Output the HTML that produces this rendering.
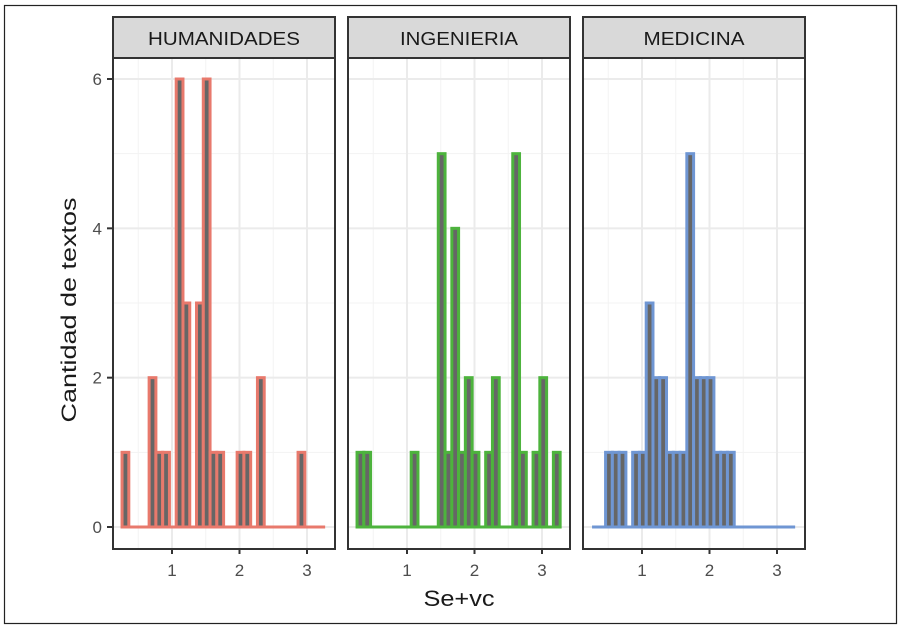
<!DOCTYPE html>
<html><head><meta charset="utf-8"><style>
html,body{margin:0;padding:0;background:#fff;}
svg{display:block;font-family:"Liberation Sans",sans-serif;}
</style></head><body>
<svg id="chart" width="901" height="629">
<rect x="4.5" y="5.5" width="892" height="618" fill="#fff" stroke="#222" stroke-width="1.2"/>
</svg>
<script>
const facets = ["HUMANIDADES","INGENIERIA","MEDICINA"];
const colors = ["#E8796C","#4DB33D","#6F96D3"];
const binStart = 0.26;
const binWidth = 0.1003;
const countsHum = [1,0,0,0,2,1,1,0,6,3,0,3,6,1,1,0,0,1,1,0,2,0,0,0,0,0,1,0,0,0];
const countsIng = [1,1,0,0,0,0,0,0,1,0,0,0,5,1,4,1,2,1,0,1,2,0,0,5,1,0,1,2,0,1];
const countsMed = [0,0,1,1,1,0,1,1,3,2,2,1,1,1,5,2,2,2,1,1,1,0,0,0,0,0,0,0,0,0];
const yTicks = [0,2,4,6];
const xTicks = [1,2,3];
const allCounts = [countsHum, countsIng, countsMed];

const NS="http://www.w3.org/2000/svg";
const svg=document.getElementById('chart');
function mk(tag,attrs,parent){const e=document.createElementNS(NS,tag);for(const k in attrs)e.setAttribute(k,attrs[k]);(parent||svg).appendChild(e);return e;}
const panelX=[113,348,583], panelW=222, pTop=58, pBottom=549;
const stripW=[152,118,101];
const xmin=0.126, xmax=3.415;
const yS=v=>527-v*(448/6);
facets.forEach((f,i)=>{
  const x0=panelX[i];
  const xS=v=>x0+(v-xmin)/(xmax-xmin)*panelW;
  const g=mk('g',{});
  
  
  [1,3,5].forEach(v=>mk('line',{x1:x0,x2:x0+panelW,y1:yS(v),y2:yS(v),stroke:'#f3f3f3','stroke-width':1},g));
  [0.5,1.5,2.5].forEach(v=>mk('line',{x1:xS(v),x2:xS(v),y1:pTop,y2:pBottom,stroke:'#f3f3f3','stroke-width':1},g));
  yTicks.forEach(v=>mk('line',{x1:x0,x2:x0+panelW,y1:yS(v),y2:yS(v),stroke:'#ebebeb','stroke-width':2},g));
  xTicks.forEach(v=>mk('line',{x1:xS(v),x2:xS(v),y1:pTop,y2:pBottom,stroke:'#ebebeb','stroke-width':2},g));
  const n=allCounts[i].length;
  const bl=mk('line',{x1:xS(binStart),x2:xS(binStart+n*binWidth),y1:yS(0),y2:yS(0),stroke:colors[i],'stroke-width':3},g);
  
  
  allCounts[i].forEach((c,k)=>{
    if(c<=0) return;
    const a=xS(binStart+k*binWidth), b=xS(binStart+(k+1)*binWidth);
    const r=mk('rect',{x:a,y:yS(c),width:b-a,height:yS(0)-yS(c),fill:'#666',stroke:colors[i],'stroke-width':3},g);
    
    
  });
  mk('rect',{x:x0,y:pTop,width:panelW,height:pBottom-pTop,fill:'none',stroke:'#333','stroke-width':2},g);
  const s=mk('rect',{x:x0,y:17,width:panelW,height:pTop-17,fill:'#d9d9d9',stroke:'#333','stroke-width':2},g);
  
  
  const st=mk('text',{x:x0+panelW/2,y:45,'text-anchor':'middle','font-size':18,fill:'#1a1a1a',textLength:stripW[i],lengthAdjust:'spacingAndGlyphs'},g);
  st.textContent=f;
  
  
  xTicks.forEach(v=>{
    mk('line',{x1:xS(v),x2:xS(v),y1:pBottom,y2:pBottom+5,stroke:'#333','stroke-width':2},g);
    const t=mk('text',{x:xS(v),y:576,'text-anchor':'middle','font-size':17,fill:'#4d4d4d'},g);
    t.textContent=v;
    
    
  });
});
yTicks.forEach(v=>{
  mk('line',{x1:107,x2:113,y1:yS(v),y2:yS(v),stroke:'#333','stroke-width':2});
  const t=mk('text',{x:102,y:yS(v)+6,'text-anchor':'end','font-size':17,fill:'#4d4d4d'});
  t.textContent=v;
  
  
});
const xt=mk('text',{x:459,y:606,'text-anchor':'middle','font-size':22,fill:'#1a1a1a',textLength:71,lengthAdjust:'spacingAndGlyphs'});
xt.textContent='Se+vc';


const yt=mk('text',{x:0,y:0,'text-anchor':'middle','font-size':21,fill:'#1a1a1a',textLength:225,lengthAdjust:'spacingAndGlyphs',transform:'translate(76,310) rotate(-90)'});
yt.textContent='Cantidad de textos';


</script>
</body></html>
